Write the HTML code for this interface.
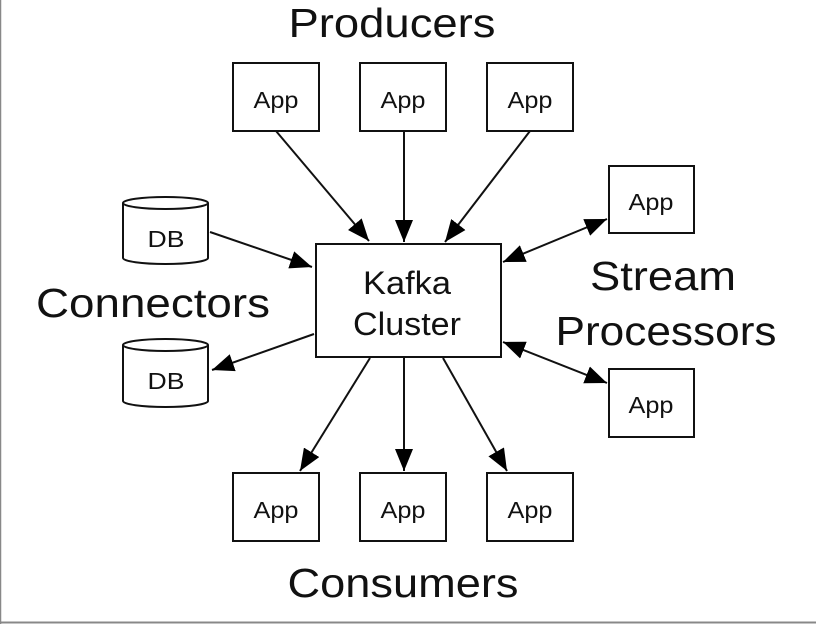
<!DOCTYPE html>
<html><head><meta charset="utf-8"><style>
html,body{margin:0;padding:0;background:#fff;}
svg{display:block;}
text{font-family:"Liberation Sans",Arial,sans-serif;fill:#111;}
</style></head><body>
<svg width="816" height="624" viewBox="0 0 816 624" xmlns="http://www.w3.org/2000/svg">
<defs>
<marker id="a" viewBox="0 0 22 18" refX="22" refY="9" markerWidth="22" markerHeight="18" markerUnits="userSpaceOnUse" orient="auto-start-reverse">
<path d="M0,0 L22,9 L0,18 z" fill="#000"/></marker>
</defs>
<line x1="0.5" y1="0" x2="0.5" y2="624" stroke="#888" stroke-width="1.5"/>
<line x1="0" y1="622.5" x2="816" y2="622.5" stroke="#888" stroke-width="2"/>
<g fill="none" stroke="#111" stroke-width="2">
<rect x="233" y="63" width="86" height="68"/>
<rect x="360" y="63" width="86" height="68"/>
<rect x="487" y="63" width="86" height="68"/>
<rect x="316" y="244" width="185" height="113"/>
<rect x="609" y="166" width="85" height="67"/>
<rect x="609" y="369" width="85" height="68"/>
<rect x="233" y="473" width="86" height="68"/>
<rect x="360" y="473" width="86" height="68"/>
<rect x="487" y="473" width="86" height="68"/>
<path d="M123,203 L123,258 A42.5,6 0 0 0 208,258 L208,203"/>
<ellipse cx="165.5" cy="203" rx="42.5" ry="6"/>
<path d="M123,345 L123,401 A42.5,6 0 0 0 208,401 L208,345"/>
<ellipse cx="165.5" cy="345" rx="42.5" ry="6"/>
</g>
<g stroke="#111" stroke-width="2" fill="none">
<line x1="276" y1="131" x2="369" y2="241" marker-end="url(#a)"/>
<line x1="404" y1="131" x2="404" y2="242" marker-end="url(#a)"/>
<line x1="530" y1="131" x2="445" y2="242" marker-end="url(#a)"/>
<line x1="210" y1="232" x2="312" y2="267" marker-end="url(#a)"/>
<line x1="314" y1="334" x2="212" y2="370" marker-end="url(#a)"/>
<line x1="503" y1="262" x2="607" y2="219" marker-start="url(#a)" marker-end="url(#a)"/>
<line x1="503" y1="342" x2="607" y2="383" marker-start="url(#a)" marker-end="url(#a)"/>
<line x1="370" y1="358" x2="300" y2="471" marker-end="url(#a)"/>
<line x1="404" y1="358" x2="404" y2="471" marker-end="url(#a)"/>
<line x1="443" y1="358" x2="507" y2="471" marker-end="url(#a)"/>
</g>
<g font-size="23" text-anchor="middle">
<text x="276" y="108" textLength="45" lengthAdjust="spacingAndGlyphs">App</text>
<text x="403" y="108" textLength="45" lengthAdjust="spacingAndGlyphs">App</text>
<text x="530" y="108" textLength="45" lengthAdjust="spacingAndGlyphs">App</text>
<text x="651" y="210" textLength="45" lengthAdjust="spacingAndGlyphs">App</text>
<text x="651" y="413" textLength="45" lengthAdjust="spacingAndGlyphs">App</text>
<text x="276" y="518" textLength="45" lengthAdjust="spacingAndGlyphs">App</text>
<text x="403" y="518" textLength="45" lengthAdjust="spacingAndGlyphs">App</text>
<text x="530" y="518" textLength="45" lengthAdjust="spacingAndGlyphs">App</text>
<text x="166" y="247" textLength="37" lengthAdjust="spacingAndGlyphs">DB</text>
<text x="166" y="389" textLength="37" lengthAdjust="spacingAndGlyphs">DB</text>
</g>
<g text-anchor="middle" font-size="32">
<text x="407" y="294" textLength="88" lengthAdjust="spacingAndGlyphs">Kafka</text>
<text x="407" y="335" textLength="108" lengthAdjust="spacingAndGlyphs">Cluster</text>
</g>
<g text-anchor="middle" font-size="41">
<text x="392" y="37" textLength="207" lengthAdjust="spacingAndGlyphs">Producers</text>
<text x="153" y="317" textLength="234" lengthAdjust="spacingAndGlyphs">Connectors</text>
<text x="663" y="290" textLength="146" lengthAdjust="spacingAndGlyphs">Stream</text>
<text x="666" y="345" textLength="221" lengthAdjust="spacingAndGlyphs">Processors</text>
<text x="403" y="597" textLength="231" lengthAdjust="spacingAndGlyphs">Consumers</text>
</g>
</svg>
</body></html>
